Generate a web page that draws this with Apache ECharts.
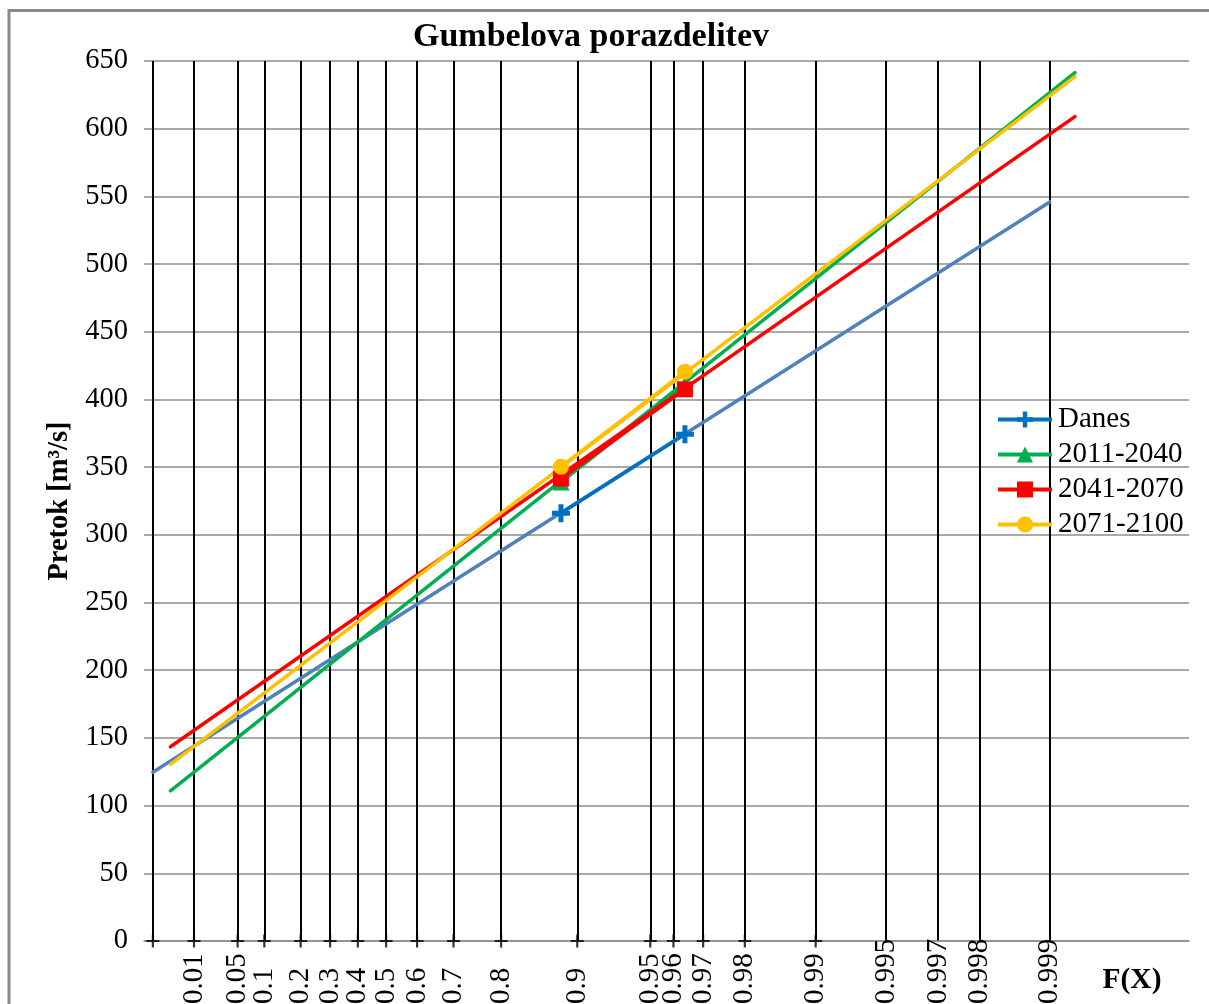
<!DOCTYPE html>
<html>
<head>
<meta charset="utf-8">
<title>Gumbelova porazdelitev</title>
<script src="https://cdn.jsdelivr.net/npm/echarts@6/dist/echarts.min.js"></script>
<style>
  html, body { margin: 0; padding: 0; background: #fff; }
  #chart { width: 1209px; height: 1004px; }
</style>
</head>
<body>
<div id="chart"></div>
<script>
// Probability grid of the Gumbel paper (vertical lines) and their labels
const gridProbs = [0.001, 0.01, 0.05, 0.1, 0.2, 0.3, 0.4, 0.5, 0.6, 0.7, 0.8, 0.9,
                   0.95, 0.96, 0.97, 0.98, 0.99, 0.995, 0.997, 0.998, 0.999];
const labelProbs = [0.01, 0.05, 0.1, 0.2, 0.3, 0.4, 0.5, 0.6, 0.7, 0.8, 0.9,
                    0.95, 0.96, 0.97, 0.98, 0.99, 0.995, 0.997, 0.998, 0.999];
const labelTexts = ['0.01', '0.05', '0.1', '0.2', '0.3', '0.4', '0.5', '0.6', '0.7', '0.8', '0.9',
                    '0.95', '0.96', '0.97', '0.98', '0.99', '0.995', '0.997', '0.998', '0.999'];
// Cross marks on the axis
const crossProbs = [0.001, 0.01, 0.05, 0.1, 0.2, 0.3, 0.4, 0.5, 0.6, 0.7, 0.8, 0.9,
                    0.95, 0.96, 0.97, 0.98, 0.99];

// Periods
const seriesNames = ['Danes', '2011-2040', '2041-2070', '2071-2100'];

// Sample points: non-exceedance probability F and discharge [m3/s]
const sampleProbs = [0.8836, 0.9642];
const qDanes = [315.9, 374.3];
const q2011 = [339.0, 411.0];
const q2041 = [341.5, 407.5];
const q2071 = [350.3, 420.5];

// Fitted Gumbel lines: probability range and discharge at both ends
const trendProbsDanes = [0.001, 0.999];
const trendProbsFuture = [0.003, 0.99922];
const trendDanes = [124.6, 545.9];
const trend2011 = [110.8, 641.4];
const trend2041 = [143.5, 608.9];
const trend2071 = [130.5, 638.4];

// Reduced Gumbel variate: the linear coordinate of the probability paper
const toVariate = p => -Math.log(-Math.log(p));
const pairs = (probs, vals) => probs.map((p, i) => [toVariate(p), vals[i]]);

const gridVariates = gridProbs.map(toVariate);
const labelVariates = labelProbs.map(toVariate);

const FONT = '"Liberation Serif", "Times New Roman", serif';
const plusPath = 'path://M0,6.5 L18,6.5 L18,11.5 L0,11.5 Z M6.5,0 L11.5,0 L11.5,18 L6.5,18 Z';
const crossPath = 'path://M0,5 L12,5 L12,7 L0,7 Z M5,0 L7,0 L7,12 L5,12 Z';

function labelFor(v) {
  for (let i = 0; i < labelVariates.length; i++) {
    if (Math.abs(labelVariates[i] - v) < 1e-6) return labelTexts[i];
  }
  return '';
}

function trendSeries(name, probs, vals, color) {
  return {
    name: name, type: 'line', data: pairs(probs, vals),
    showSymbol: false, silent: true,
    lineStyle: { color: color, width: 3.5, cap: 'round' },
    itemStyle: { color: color }
  };
}
function sampleSeries(name, vals, color, symbol, size) {
  return {
    name: name, type: 'line', data: pairs(sampleProbs, vals),
    symbol: symbol, symbolSize: size, showSymbol: true,
    lineStyle: { color: color, width: 3.5 },
    itemStyle: { color: color, opacity: 1 }
  };
}

const chart = echarts.init(document.getElementById('chart'));
chart.setOption({
  animation: false,
  backgroundColor: '#fff',
  textStyle: { fontFamily: FONT },
  grid: { left: 144, right: 20, top: 61, bottom: 63, outerBoundsMode: 'none', containLabel: false },
  xAxis: {
    type: 'value', min: -2.02, max: 8.28,
    axisLine: { show: true, lineStyle: { color: '#8c8c8c', width: 1.5 } },
    axisTick: { show: false, customValues: gridVariates },
    splitLine: { show: true, lineStyle: { color: '#000', width: 2 } },
    axisLabel: {
      customValues: labelVariates, formatter: v => labelFor(v),
      rotate: 90, align: 'left', verticalAlign: 'middle', margin: 63,
      fontSize: 29, color: '#000', fontFamily: FONT
    }
  },
  yAxis: {
    type: 'value', min: 0, max: 650, interval: 50,
    axisLine: { show: false }, axisTick: { show: false },
    splitLine: { show: true, lineStyle: { color: '#8c8c8c', width: 1.5 } },
    axisLabel: { fontSize: 28.5, color: '#000', margin: 16, fontFamily: FONT },
    name: 'Pretok [m³/s]', nameLocation: 'middle', nameGap: 68,
    nameTextStyle: { fontSize: 28.5, fontWeight: 'bold', color: '#000', fontFamily: FONT }
  },
  legend: {
    data: seriesNames, orient: 'vertical', left: 996, top: 405, padding: 0,
    itemWidth: 54, itemHeight: 20, itemGap: 6,
    lineStyle: { width: 4 },
    textStyle: { fontSize: 29, color: '#000', fontFamily: FONT, padding: [0, 0, 0, 1] }
  },
  graphic: [
    { type: 'rect', shape: { x: 9, y: 10.5, width: 1400, height: 1200 },
      style: { fill: 'none', stroke: '#8a8a8a', lineWidth: 3 }, silent: true },
    { type: 'text', x: 591, y: 37,
      style: { text: 'Gumbelova porazdelitev', textAlign: 'center', textVerticalAlign: 'middle',
               fontSize: 34, fontWeight: 'bold', fontFamily: FONT, fill: '#000' } },
    { type: 'text', x: 1132, y: 980,
      style: { text: 'F(X)', textAlign: 'center', textVerticalAlign: 'middle',
               fontSize: 29.5, fontWeight: 'bold', fontFamily: FONT, fill: '#000' } }
  ],
  series: [
    {
      name: 'axisCross', type: 'scatter', silent: true, clip: false,
      data: crossProbs.map(p => [toVariate(p), 0]),
      symbol: crossPath, symbolSize: 13, itemStyle: { color: '#000' }, z: 1
    },
    trendSeries('Danes trend', trendProbsDanes, trendDanes, '#4F81BD'),
    sampleSeries('Danes', qDanes, '#0070C0', plusPath, 18),
    trendSeries('2011-2040 trend', trendProbsFuture, trend2011, '#00B050'),
    sampleSeries('2011-2040', q2011, '#00B050', 'triangle', 17),
    trendSeries('2041-2070 trend', trendProbsFuture, trend2041, '#FF0000'),
    sampleSeries('2041-2070', q2041, '#FF0000', 'rect', 16),
    trendSeries('2071-2100 trend', trendProbsFuture, trend2071, '#FFC000'),
    sampleSeries('2071-2100', q2071, '#FFC000', 'circle', 16)
  ]
});
</script>
</body>
</html>
